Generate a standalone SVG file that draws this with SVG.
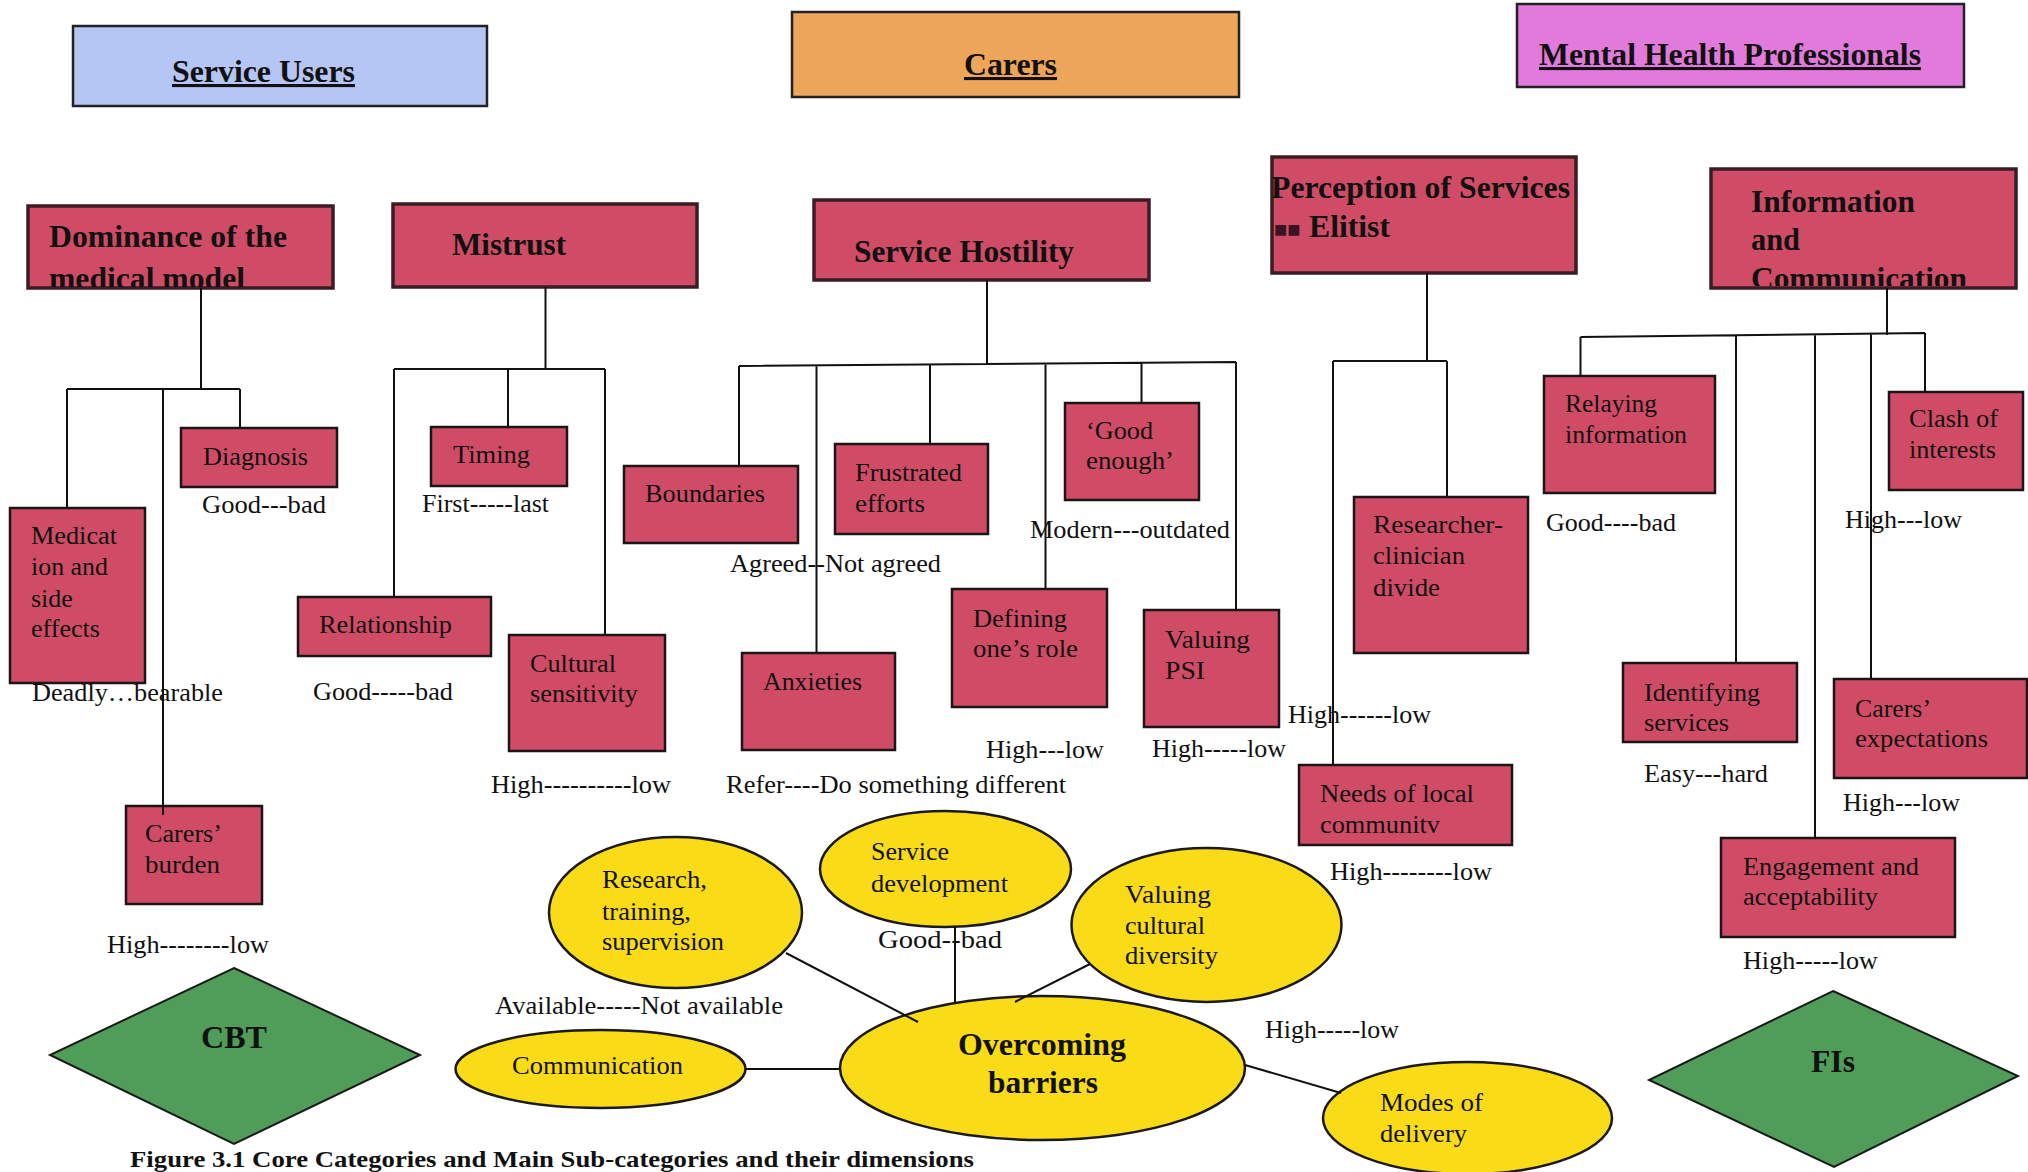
<svg xmlns="http://www.w3.org/2000/svg" width="2028" height="1172" viewBox="0 0 2028 1172">
<style>
  text { font-family: "Liberation Serif", "Times New Roman", serif; fill: #111; }
  .t { font-size: 26px; }
  .h { font-size: 31px; font-weight: bold; }
  .u { text-decoration: underline; }
  .cap { font-size: 24px; font-weight: bold; }
  .title { stroke: #222; stroke-width: 2.5; }
  .cat { fill: #d04c66; stroke: #3a1c24; stroke-width: 3.5; }
  .sub { fill: #d04c66; stroke: #1c1416; stroke-width: 2.5; }
  .ell { fill: #f9dc17; stroke: #1a1a1a; stroke-width: 2.5; }
  .dia { fill: #4f9d58; stroke: #1a1a1a; stroke-width: 2; }
  .con { stroke: #111; stroke-width: 2; fill: none; }
</style>
<defs>
  <clipPath id="clip-dom"><rect x="28" y="206" width="305" height="81"/></clipPath>
  <clipPath id="clip-per"><rect x="1273" y="157" width="303" height="116"/></clipPath>
  <clipPath id="clip-inf"><rect x="1711" y="169" width="305" height="117"/></clipPath>
</defs>
<rect width="2028" height="1172" fill="#ffffff"/>

<!-- group headings -->
<g id="service-users">
  <rect class="title" x="73" y="26" width="414" height="80" fill="#b5c6f5"/>
  <text class="h u" x="172" y="82" textLength="183" lengthAdjust="spacingAndGlyphs">Service Users</text>
</g>
<g id="carers">
  <rect class="title" x="792" y="12" width="447" height="85" fill="#eda55a"/>
  <text class="h u" x="964" y="75" textLength="93" lengthAdjust="spacingAndGlyphs">Carers</text>
</g>
<g id="mental-health-professionals">
  <rect class="title" x="1517" y="4" width="447" height="83" fill="#e17ada"/>
  <text class="h u" x="1539" y="65" textLength="382" lengthAdjust="spacingAndGlyphs">Mental Health Professionals</text>
</g>

<!-- core categories -->
<g id="dominance">
  <rect class="cat" x="28" y="206" width="305" height="82"/>
  <g clip-path="url(#clip-dom)">
    <text class="h" x="49" y="247" textLength="238" lengthAdjust="spacingAndGlyphs">Dominance of the</text>
    <text class="h" x="49" y="289" textLength="196" lengthAdjust="spacingAndGlyphs">medical model</text>
  </g>
</g>
<g id="mistrust">
  <rect class="cat" x="393" y="204" width="304" height="83"/>
  <text class="h" x="452" y="255" textLength="114" lengthAdjust="spacingAndGlyphs">Mistrust</text>
</g>
<g id="service-hostility">
  <rect class="cat" x="814" y="200" width="335" height="80"/>
  <text class="h" x="854" y="262" textLength="220" lengthAdjust="spacingAndGlyphs">Service Hostility</text>
</g>
<g id="perception">
  <rect class="cat" x="1272" y="157" width="304" height="116"/>
  <g clip-path="url(#clip-per)">
    <text class="h" x="1271" y="198" textLength="299" lengthAdjust="spacingAndGlyphs">Perception of Services</text>
    <text class="h" x="1274" y="237"><tspan font-size="22" fill="#3a1420">■■</tspan><tspan x="1309" textLength="81" lengthAdjust="spacingAndGlyphs">Elitist</tspan></text>
  </g>
</g>
<g id="information">
  <rect class="cat" x="1711" y="169" width="305" height="119"/>
  <g clip-path="url(#clip-inf)">
    <text class="h" x="1751" y="212" textLength="164" lengthAdjust="spacingAndGlyphs">Information</text>
    <text class="h" x="1751" y="250" textLength="49" lengthAdjust="spacingAndGlyphs">and</text>
    <text class="h" x="1751" y="289" textLength="216" lengthAdjust="spacingAndGlyphs">Communication</text>
  </g>
</g>

<!-- sub-categories -->
<g id="medication">
  <rect class="sub" x="10" y="508" width="135" height="175"/>
  <text class="t" x="31" y="544" textLength="86" lengthAdjust="spacingAndGlyphs">Medicat</text>
  <text class="t" x="31" y="575" textLength="77" lengthAdjust="spacingAndGlyphs">ion and</text>
  <text class="t" x="31" y="607">side</text>
  <text class="t" x="31" y="637" textLength="69" lengthAdjust="spacingAndGlyphs">effects</text>
</g>
<g id="diagnosis">
  <rect class="sub" x="181" y="428" width="156" height="59"/>
  <text class="t" x="203" y="465" textLength="105" lengthAdjust="spacingAndGlyphs">Diagnosis</text>
</g>
<g id="carers-burden">
  <rect class="sub" x="126" y="806" width="136" height="98"/>
  <text class="t" x="145" y="842" textLength="77" lengthAdjust="spacingAndGlyphs">Carers’</text>
  <text class="t" x="145" y="873" textLength="75" lengthAdjust="spacingAndGlyphs">burden</text>
</g>
<g id="timing">
  <rect class="sub" x="431" y="427" width="136" height="59"/>
  <text class="t" x="453" y="463" textLength="77" lengthAdjust="spacingAndGlyphs">Timing</text>
</g>
<g id="relationship">
  <rect class="sub" x="298" y="597" width="193" height="59"/>
  <text class="t" x="319" y="633" textLength="133" lengthAdjust="spacingAndGlyphs">Relationship</text>
</g>
<g id="cultural-sensitivity">
  <rect class="sub" x="509" y="635" width="156" height="116"/>
  <text class="t" x="530" y="672" textLength="86" lengthAdjust="spacingAndGlyphs">Cultural</text>
  <text class="t" x="530" y="702" textLength="108" lengthAdjust="spacingAndGlyphs">sensitivity</text>
</g>
<g id="boundaries">
  <rect class="sub" x="624" y="466" width="174" height="77"/>
  <text class="t" x="645" y="502" textLength="120" lengthAdjust="spacingAndGlyphs">Boundaries</text>
</g>
<g id="frustrated-efforts">
  <rect class="sub" x="835" y="444" width="153" height="90"/>
  <text class="t" x="855" y="481" textLength="107" lengthAdjust="spacingAndGlyphs">Frustrated</text>
  <text class="t" x="855" y="512" textLength="70" lengthAdjust="spacingAndGlyphs">efforts</text>
</g>
<g id="anxieties">
  <rect class="sub" x="742" y="653" width="153" height="97"/>
  <text class="t" x="763" y="690" textLength="99" lengthAdjust="spacingAndGlyphs">Anxieties</text>
</g>
<g id="good-enough">
  <rect class="sub" x="1065" y="403" width="134" height="97"/>
  <text class="t" x="1086" y="439" textLength="67" lengthAdjust="spacingAndGlyphs">‘Good</text>
  <text class="t" x="1086" y="469" textLength="88" lengthAdjust="spacingAndGlyphs">enough’</text>
</g>
<g id="defining-role">
  <rect class="sub" x="952" y="589" width="155" height="118"/>
  <text class="t" x="973" y="627" textLength="94" lengthAdjust="spacingAndGlyphs">Defining</text>
  <text class="t" x="973" y="657" textLength="105" lengthAdjust="spacingAndGlyphs">one’s role</text>
</g>
<g id="valuing-psi">
  <rect class="sub" x="1144" y="610" width="135" height="117"/>
  <text class="t" x="1165" y="648" textLength="85" lengthAdjust="spacingAndGlyphs">Valuing</text>
  <text class="t" x="1165" y="679" textLength="40" lengthAdjust="spacingAndGlyphs">PSI</text>
</g>
<g id="researcher-clinician">
  <rect class="sub" x="1354" y="497" width="174" height="156"/>
  <text class="t" x="1373" y="533" textLength="130" lengthAdjust="spacingAndGlyphs">Researcher-</text>
  <text class="t" x="1373" y="564" textLength="92" lengthAdjust="spacingAndGlyphs">clinician</text>
  <text class="t" x="1373" y="596" textLength="67" lengthAdjust="spacingAndGlyphs">divide</text>
</g>
<g id="needs-local">
  <rect class="sub" x="1299" y="765" width="213" height="80"/>
  <text class="t" x="1320" y="802" textLength="154" lengthAdjust="spacingAndGlyphs">Needs of local</text>
  <text class="t" x="1320" y="833" textLength="120" lengthAdjust="spacingAndGlyphs">communitv</text>
</g>
<g id="relaying-information">
  <rect class="sub" x="1544" y="376" width="171" height="117"/>
  <text class="t" x="1565" y="412" textLength="92" lengthAdjust="spacingAndGlyphs">Relaying</text>
  <text class="t" x="1565" y="443" textLength="122" lengthAdjust="spacingAndGlyphs">information</text>
</g>
<g id="clash-interests">
  <rect class="sub" x="1889" y="392" width="134" height="98"/>
  <text class="t" x="1909" y="427" textLength="89" lengthAdjust="spacingAndGlyphs">Clash of</text>
  <text class="t" x="1909" y="458" textLength="87" lengthAdjust="spacingAndGlyphs">interests</text>
</g>
<g id="identifying-services">
  <rect class="sub" x="1623" y="663" width="174" height="79"/>
  <text class="t" x="1644" y="701" textLength="116" lengthAdjust="spacingAndGlyphs">Identifying</text>
  <text class="t" x="1644" y="731" textLength="85" lengthAdjust="spacingAndGlyphs">services</text>
</g>
<g id="carers-expectations">
  <rect class="sub" x="1834" y="679" width="193" height="99"/>
  <text class="t" x="1855" y="717" textLength="76" lengthAdjust="spacingAndGlyphs">Carers’</text>
  <text class="t" x="1855" y="747" textLength="133" lengthAdjust="spacingAndGlyphs">expectations</text>
</g>
<g id="engagement">
  <rect class="sub" x="1721" y="838" width="234" height="99"/>
  <text class="t" x="1743" y="875" textLength="176" lengthAdjust="spacingAndGlyphs">Engagement and</text>
  <text class="t" x="1743" y="905" textLength="135" lengthAdjust="spacingAndGlyphs">acceptability</text>
</g>

<!-- overcoming barriers cluster -->
<g id="research-training">
  <ellipse class="ell" cx="675.5" cy="912.5" rx="126.5" ry="75.5"/>
  <text class="t" x="602" y="888" textLength="105" lengthAdjust="spacingAndGlyphs">Research,</text>
  <text class="t" x="602" y="920" textLength="89" lengthAdjust="spacingAndGlyphs">training,</text>
  <text class="t" x="602" y="950" textLength="122" lengthAdjust="spacingAndGlyphs">supervision</text>
</g>
<g id="service-development">
  <ellipse class="ell" cx="945.5" cy="869" rx="125.5" ry="58"/>
  <text class="t" x="871" y="860" textLength="78" lengthAdjust="spacingAndGlyphs">Service</text>
  <text class="t" x="871" y="892" textLength="137" lengthAdjust="spacingAndGlyphs">development</text>
</g>
<g id="valuing-cultural-diversity">
  <ellipse class="ell" cx="1206.5" cy="925" rx="135" ry="77"/>
  <text class="t" x="1125" y="903" textLength="86" lengthAdjust="spacingAndGlyphs">Valuing</text>
  <text class="t" x="1125" y="934" textLength="80" lengthAdjust="spacingAndGlyphs">cultural</text>
  <text class="t" x="1125" y="964" textLength="93" lengthAdjust="spacingAndGlyphs">diversity</text>
</g>
<g id="communication">
  <ellipse class="ell" cx="600.5" cy="1069" rx="145" ry="39"/>
  <text class="t" x="512" y="1074" textLength="171" lengthAdjust="spacingAndGlyphs">Communication</text>
</g>
<g id="overcoming-barriers">
  <ellipse class="ell" cx="1042.5" cy="1068" rx="202.5" ry="72"/>
  <text class="h" x="958" y="1055" textLength="168" lengthAdjust="spacingAndGlyphs">Overcoming</text>
  <text class="h" x="988" y="1093" textLength="110" lengthAdjust="spacingAndGlyphs">barriers</text>
</g>
<g id="modes-delivery">
  <ellipse class="ell" cx="1467.5" cy="1118" rx="144.5" ry="56"/>
  <text class="t" x="1380" y="1111" textLength="103" lengthAdjust="spacingAndGlyphs">Modes of</text>
  <text class="t" x="1380" y="1142" textLength="87" lengthAdjust="spacingAndGlyphs">delivery</text>
</g>

<!-- interventions -->
<g id="cbt">
  <polygon class="dia" points="234,968 420,1055 234,1144 50,1055"/>
  <text class="h" x="201" y="1048" textLength="66" lengthAdjust="spacingAndGlyphs">CBT</text>
</g>
<g id="fis">
  <polygon class="dia" points="1833,991 2018,1076 1834,1167 1649,1080"/>
  <text class="h" x="1811" y="1072" textLength="44" lengthAdjust="spacingAndGlyphs">FIs</text>
</g>

<!-- dimension ranges -->
<g id="dimensions" class="t">
  <text class="t" x="32" y="701" textLength="191" lengthAdjust="spacingAndGlyphs">Deadly…bearable</text>
  <text class="t" x="202" y="513" textLength="124" lengthAdjust="spacingAndGlyphs">Good---bad</text>
  <text class="t" x="107" y="953" textLength="162" lengthAdjust="spacingAndGlyphs">High--------low</text>
  <text class="t" x="422" y="512" textLength="127" lengthAdjust="spacingAndGlyphs">First-----last</text>
  <text class="t" x="313" y="700" textLength="140" lengthAdjust="spacingAndGlyphs">Good-----bad</text>
  <text class="t" x="491" y="793" textLength="180" lengthAdjust="spacingAndGlyphs">High----------low</text>
  <text class="t" x="730" y="572" textLength="211" lengthAdjust="spacingAndGlyphs">Agreed--Not agreed</text>
  <text class="t" x="1030" y="538" textLength="200" lengthAdjust="spacingAndGlyphs">Modern---outdated</text>
  <text class="t" x="726" y="793" textLength="340" lengthAdjust="spacingAndGlyphs">Refer----Do something different</text>
  <text class="t" x="986" y="758" textLength="118" lengthAdjust="spacingAndGlyphs">High---low</text>
  <text class="t" x="1152" y="757" textLength="134" lengthAdjust="spacingAndGlyphs">High-----low</text>
  <text class="t" x="1288" y="723" textLength="143" lengthAdjust="spacingAndGlyphs">High------low</text>
  <text class="t" x="1330" y="880" textLength="162" lengthAdjust="spacingAndGlyphs">High--------low</text>
  <text class="t" x="1546" y="531" textLength="130" lengthAdjust="spacingAndGlyphs">Good----bad</text>
  <text class="t" x="1845" y="528" textLength="117" lengthAdjust="spacingAndGlyphs">High---low</text>
  <text class="t" x="1644" y="782" textLength="124" lengthAdjust="spacingAndGlyphs">Easy---hard</text>
  <text class="t" x="1843" y="811" textLength="117" lengthAdjust="spacingAndGlyphs">High---low</text>
  <text class="t" x="1743" y="969" textLength="135" lengthAdjust="spacingAndGlyphs">High-----low</text>
  <text class="t" x="495" y="1014" textLength="288" lengthAdjust="spacingAndGlyphs">Available-----Not available</text>
  <text class="t" x="878" y="948" textLength="124" lengthAdjust="spacingAndGlyphs">Good--bad</text>
  <text class="t" x="1265" y="1038" textLength="134" lengthAdjust="spacingAndGlyphs">High-----low</text>
</g>

<!-- tree and cluster links -->
<g id="connectors" class="con">
  <path d="M201,288V389 M67,389H240 M67,389V508 M163,389V815 M240,389V428"/>
  <path d="M545.5,287V369 M394,369H605 M394,369V597 M508,369V427 M605,369V635"/>
  <path d="M987,280V364 M739,366L1236,362 M739,366V466 M816.5,365.5V653 M930,365V444 M1045.5,364V589 M1141.5,363V403 M1236,362V610"/>
  <path d="M1427,273V361 M1333,361H1447 M1333,361V765 M1447,361V497"/>
  <path d="M1887,288V335 M1580.5,337L1925,333 M1580.5,337V376 M1736,336V663 M1815,335V838 M1871,334V679 M1925,333V392"/>
  <path d="M786,953L918,1022 M955,927V1002 M1090,964L1015,1002 M746,1069H840 M1245,1065L1341,1093"/>
</g>

<text class="cap" x="130" y="1167" textLength="844" lengthAdjust="spacingAndGlyphs">Figure 3.1 Core Categories and Main Sub-categories and their dimensions</text>
</svg>
